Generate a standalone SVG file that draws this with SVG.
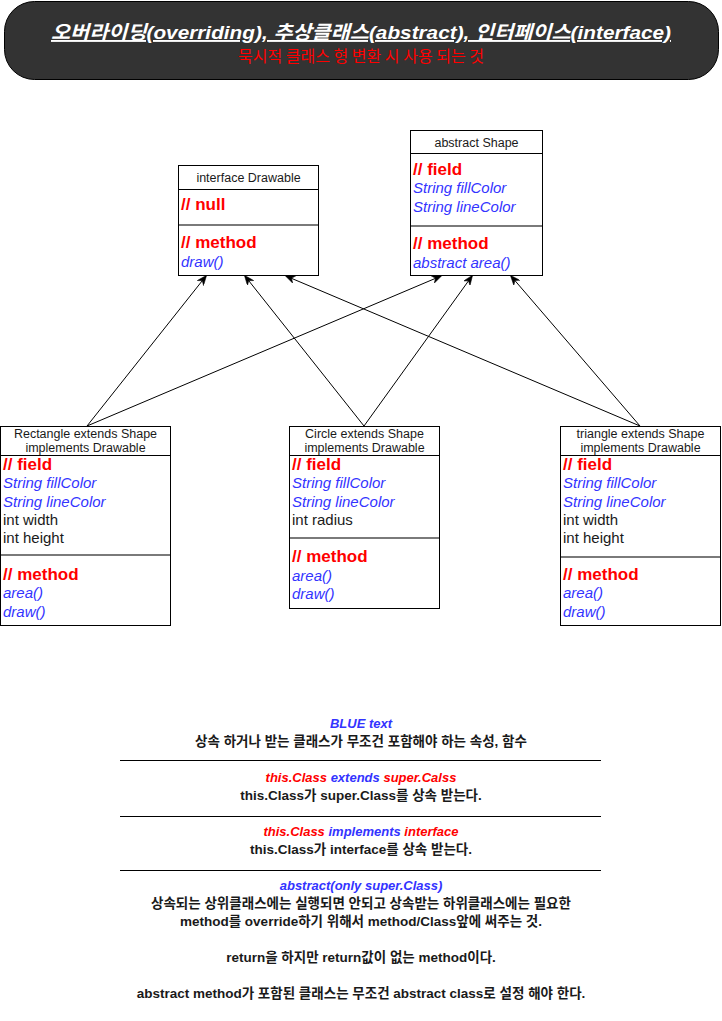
<svg xmlns="http://www.w3.org/2000/svg" width="722" height="1021" viewBox="0 0 722 1021">
<style>
.box{fill:#fff;stroke:#000;stroke-width:1}
.hdr{font-family:"Liberation Sans",Arial,sans-serif;font-size:12.5px;fill:#1a1a1a;text-anchor:middle}
.sec{font-family:"Liberation Sans",Arial,sans-serif;font-size:17px;font-weight:bold;fill:#ff0000}
.it{font-family:"Liberation Sans",Arial,sans-serif;font-size:15px;font-style:italic;fill:#3333ff}
.pl{font-family:"Liberation Sans",Arial,sans-serif;font-size:15px;fill:#1a1a1a}
.sep{stroke:#7a7a7a;stroke-width:2}
.hl{stroke:#000;stroke-width:1}
.conn{stroke:#000;stroke-width:1;fill:none;marker-end:url(#arr)}
.lg{font-family:"Liberation Sans",Arial,"Noto Sans CJK KR",sans-serif;font-size:13.5px;font-weight:bold;fill:#1a1a1a;text-anchor:middle}
.lh{font-family:"Liberation Sans",Arial,sans-serif;font-size:13px;font-weight:bold;font-style:italic;text-anchor:middle}
.r{fill:#ff0000}.b{fill:#3333ff}
.rule{stroke:#000;stroke-width:1}
</style>
<defs>
<marker id="arr" viewBox="0 0 10 8" refX="9" refY="4" markerWidth="10" markerHeight="8" markerUnits="userSpaceOnUse" orient="auto">
<path d="M0,0 L10,4 L0,8 L3,4 z" fill="#000" stroke="#000" stroke-width="0.5"/>
</marker>
</defs>
<rect width="722" height="1021" fill="#fff"/>

<g id="title">
<rect x="4.5" y="1.5" width="714" height="78" rx="30" ry="30" fill="#333333" stroke="#000" stroke-width="1"/>
<text x="361" y="39" font-family="'Liberation Sans',Arial,'Noto Sans CJK KR',sans-serif" font-size="19" font-weight="bold" font-style="italic" text-decoration="underline" fill="#fff" text-anchor="middle" textLength="620" lengthAdjust="spacingAndGlyphs">오버라이딩(overriding), 추상클래스(abstract), 인터페이스(interface)</text>
<text x="361" y="62" font-family="'Noto Sans CJK KR',sans-serif" font-size="16" fill="#ff0000" text-anchor="middle">묵시적 클래스 형 변환 시 사용 되는 것</text>
</g>

<g id="connectors">
<line class="conn" x1="87" y1="426" x2="206" y2="276"/>
<line class="conn" x1="87" y1="426" x2="441" y2="276"/>
<line class="conn" x1="364" y1="426" x2="245" y2="276"/>
<line class="conn" x1="364" y1="426" x2="472" y2="276"/>
<line class="conn" x1="640" y1="426" x2="286" y2="276"/>
<line class="conn" x1="640" y1="426" x2="511" y2="276"/>
</g>

<g id="drawable">
<rect class="box" x="178.5" y="165.5" width="140" height="110"/>
<line class="hl" x1="178.5" y1="189.5" x2="318.5" y2="189.5"/>
<text class="hdr" x="248.5" y="182">interface Drawable</text>
<text class="sec" x="181" y="210">// null</text>
<line class="sep" x1="179" y1="225" x2="318" y2="225"/>
<text class="sec" x="181" y="248">// method</text>
<text class="it" x="181" y="267">draw()</text>
</g>

<g id="shape">
<rect class="box" x="410.5" y="130.5" width="132" height="145"/>
<line class="hl" x1="410.5" y1="153.5" x2="542.5" y2="153.5"/>
<text class="hdr" x="476.5" y="147">abstract Shape</text>
<text class="sec" x="413" y="175">// field</text>
<text class="it" x="413" y="193">String fillColor</text>
<text class="it" x="413" y="212">String lineColor</text>
<line class="sep" x1="411" y1="226" x2="542" y2="226"/>
<text class="sec" x="413" y="249">// method</text>
<text class="it" x="413" y="268">abstract area()</text>
</g>

<g id="rectangle">
<rect class="box" x="0.5" y="426.5" width="170" height="199"/>
<line class="hl" x1="0.5" y1="455.5" x2="170.5" y2="455.5"/>
<text class="hdr" x="85.5" y="438">Rectangle extends Shape</text>
<text class="hdr" x="85.5" y="452">implements Drawable</text>
<text class="sec" x="3" y="470">// field</text>
<text class="it" x="3" y="488">String fillColor</text>
<text class="it" x="3" y="507">String lineColor</text>
<text class="pl" x="3" y="525">int width</text>
<text class="pl" x="3" y="543">int height</text>
<line class="sep" x1="1" y1="555" x2="170" y2="555"/>
<text class="sec" x="3" y="580">// method</text>
<text class="it" x="3" y="598">area()</text>
<text class="it" x="3" y="617">draw()</text>
</g>

<g id="circle">
<rect class="box" x="289.5" y="426.5" width="150" height="182"/>
<line class="hl" x1="289.5" y1="455.5" x2="439.5" y2="455.5"/>
<text class="hdr" x="364.5" y="438">Circle extends Shape</text>
<text class="hdr" x="364.5" y="452">implements Drawable</text>
<text class="sec" x="292" y="470">// field</text>
<text class="it" x="292" y="488">String fillColor</text>
<text class="it" x="292" y="507">String lineColor</text>
<text class="pl" x="292" y="525">int radius</text>
<line class="sep" x1="290" y1="538" x2="439" y2="538"/>
<text class="sec" x="292" y="562">// method</text>
<text class="it" x="292" y="581">area()</text>
<text class="it" x="292" y="599">draw()</text>
</g>

<g id="triangle">
<rect class="box" x="560.5" y="426.5" width="160" height="199"/>
<line class="hl" x1="560.5" y1="455.5" x2="720.5" y2="455.5"/>
<text class="hdr" x="640.5" y="438">triangle extends Shape</text>
<text class="hdr" x="640.5" y="452">implements Drawable</text>
<text class="sec" x="563" y="470">// field</text>
<text class="it" x="563" y="488">String fillColor</text>
<text class="it" x="563" y="507">String lineColor</text>
<text class="pl" x="563" y="525">int width</text>
<text class="pl" x="563" y="543">int height</text>
<line class="sep" x1="561" y1="557" x2="720" y2="557"/>
<text class="sec" x="563" y="580">// method</text>
<text class="it" x="563" y="598">area()</text>
<text class="it" x="563" y="617">draw()</text>
</g>

<g id="legend">
<text class="lh b" x="361" y="728">BLUE text</text>
<text class="lg" x="361" y="746" font-size="14">상속 하거나 받는 클래스가 무조건 포함해야 하는 속성, 함수</text>
<line class="rule" x1="120" y1="760.5" x2="601" y2="760.5"/>
<text class="lh" x="361" y="782"><tspan class="r">this.Class</tspan> <tspan class="b">extends</tspan> <tspan class="r">super.Calss</tspan></text>
<text class="lg" x="361" y="800">this.Class가 super.Class를 상속 받는다.</text>
<line class="rule" x1="120" y1="816.5" x2="601" y2="816.5"/>
<text class="lh" x="361" y="836"><tspan class="r">this.Class</tspan> <tspan class="b">implements</tspan> <tspan class="r">interface</tspan></text>
<text class="lg" x="361" y="854">this.Class가 interface를 상속 받는다.</text>
<line class="rule" x1="120" y1="870.5" x2="601" y2="870.5"/>
<text class="lh b" x="361" y="890">abstract(only super.Class)</text>
<text class="lg" x="361" y="908">상속되는 상위클래스에는 실행되면 안되고 상속받는 하위클래스에는 필요한</text>
<text class="lg" x="361" y="926">method를 override하기 위해서 method/Class앞에 써주는 것.</text>
<text class="lg" x="361" y="962">return을 하지만 return값이 없는 method이다.</text>
<text class="lg" x="361" y="998">abstract method가 포함된 클래스는 무조건 abstract class로 설정 해야 한다.</text>
</g>
</svg>
